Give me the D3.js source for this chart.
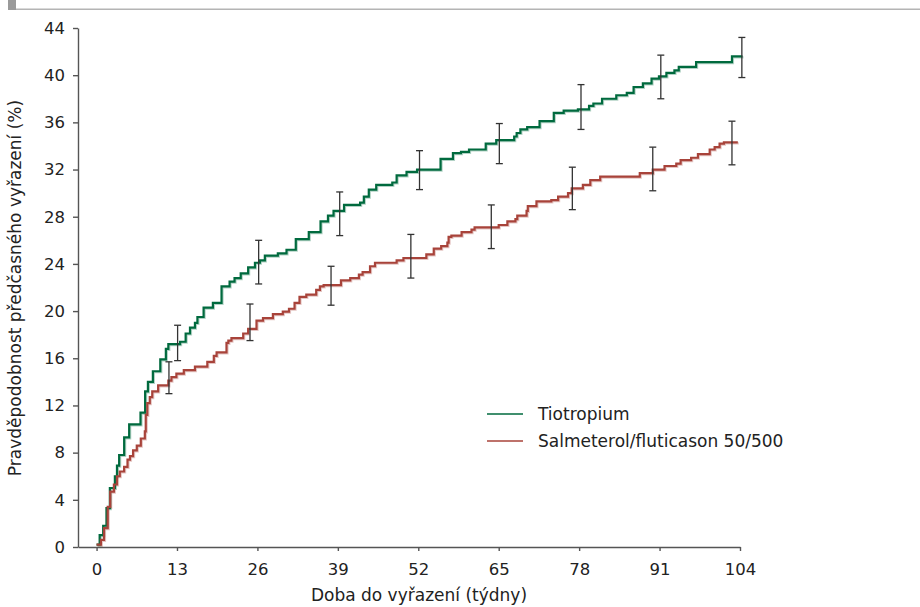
<!DOCTYPE html>
<html>
<head>
<meta charset="utf-8">
<script src="https://cdn.jsdelivr.net/npm/d3@7"></script>
<style>
  body { margin: 0; background: #fff; }
  #graf { width: 920px; height: 607px; }
  .axis text { font-family: "DejaVu Sans", sans-serif; font-size: 16.5px; fill: #222; }
  .axis path, .axis line { stroke: #555; stroke-width: 1.4; }
  .titulo { font-family: "DejaVu Sans", sans-serif; font-size: 17px; fill: #222; }
  .leyenda { font-family: "DejaVu Sans", sans-serif; font-size: 17px; fill: #222; }
</style>
</head>
<body>
<div id="graf"></div>
<script>
// Datos: [semana, valor %] (escalón posterior)
const tiotropium = [
  [0, 0.2], [0.5, 1.0], [1.07, 1.8], [1.6, 3.3], [2.15, 5.0], [2.96, 6.0], [3.3, 6.9], [3.65, 7.8],
  [4.46, 9.3], [5.27, 10.4], [7.1, 11.4], [7.85, 13.2], [8.3, 14.0], [9.1, 14.9], [10.3, 15.9],
  [11.2, 16.8], [11.6, 17.2], [13.5, 17.4], [14.4, 18.1], [15.1, 18.6], [15.9, 19.0], [16.3, 19.5],
  [17.3, 20.3], [18.8, 20.7], [20.2, 22.1], [21.5, 22.5], [22.3, 22.8], [23.3, 23.2], [24.5, 23.7],
  [25.6, 24.1], [26.4, 24.3], [27.2, 24.7], [29.3, 24.9], [30.7, 25.2], [32.2, 26.1], [34.3, 26.7],
  [36.2, 27.6], [37.4, 28.1], [38.3, 28.5], [40.0, 29.0], [42.6, 29.2], [43.2, 29.7], [44.0, 30.3],
  [45.2, 30.7], [47.8, 30.9], [48.5, 31.5], [50.1, 31.8], [51.8, 32.0], [55.6, 32.9], [57.6, 33.4],
  [58.9, 33.5], [60.2, 33.7], [62.9, 34.2], [64.6, 34.5], [67.5, 34.8], [67.9, 35.1], [68.5, 35.4],
  [69.6, 35.6], [71.6, 36.1], [73.9, 36.8], [75.5, 37.0], [77.8, 37.1], [79.6, 37.4], [80.3, 37.6],
  [81.7, 38.0], [84.0, 38.3], [85.7, 38.5], [86.8, 39.0], [88.3, 39.3], [89.7, 39.7], [90.9, 39.9],
  [92.1, 40.2], [93.4, 40.4], [94.1, 40.7], [96.9, 41.1], [102.7, 41.6], [104.4, 41.6]
]

const salmeterol = [
  [0, 0.2], [0.7, 0.6], [1.2, 1.6], [1.8, 3.4], [2.2, 4.7], [2.8, 5.3], [3.3, 6.0], [3.75, 6.4],
  [4.45, 6.8], [5.0, 7.4], [5.4, 7.7], [5.9, 8.2], [6.5, 8.6], [7.15, 9.2], [7.8, 9.8], [7.95, 11.2],
  [8.2, 12.2], [8.6, 12.7], [9.0, 13.2], [9.95, 13.7], [11.6, 14.1], [12.1, 14.4], [12.9, 14.7],
  [14.1, 15.0], [15.9, 15.3], [17.9, 15.7], [18.95, 16.2], [19.4, 16.5], [21.0, 17.3], [21.3, 17.5],
  [21.8, 17.7], [23.7, 18.1], [24.5, 18.5], [25.85, 19.2], [26.9, 19.4], [28.5, 19.75], [30.1, 19.95],
  [31.1, 20.2], [32.0, 20.7], [32.8, 21.2], [33.9, 21.4], [35.5, 21.8], [36.1, 22.1], [36.7, 22.2],
  [39.5, 22.6], [41.0, 22.8], [42.4, 23.1], [43.0, 23.3], [44.2, 23.8], [45.0, 24.1], [48.5, 24.3],
  [49.6, 24.5], [53.3, 24.8], [54.5, 25.3], [55.7, 25.5], [56.7, 25.8], [56.9, 26.3], [57.35, 26.4],
  [59.0, 26.7], [60.6, 26.9], [61.1, 27.1], [65.0, 27.3], [66.4, 27.6], [67.7, 27.8], [68.0, 28.1],
  [69.5, 28.5], [69.7, 28.9], [71.1, 29.3], [73.5, 29.4], [74.6, 29.7], [76.2, 30.0], [76.8, 30.4],
  [78.6, 30.7], [79.8, 31.1], [81.4, 31.4], [87.8, 31.7], [89.9, 32.0], [91.8, 32.3], [93.7, 32.5],
  [94.4, 32.8], [96.1, 33.0], [97.2, 33.3], [99.1, 33.7], [99.9, 33.9], [100.7, 34.2], [101.4, 34.3],
  [103.65, 34.3]
]

// Barras de error: [semana, bajo, alto]
const barrasTiotropium = [
  [13.1, 15.8, 18.8], [26.2, 22.3, 26.0], [39.3, 26.4, 30.1], [52.2, 30.3, 33.6],
  [65.1, 32.5, 35.9], [78.3, 35.4, 39.2], [91.2, 38.0, 41.7], [104.3, 39.8, 43.2]
]
const barrasSalmeterol = [
  [11.7, 13.0, 15.7], [24.8, 17.5, 20.6], [37.9, 20.5, 23.8], [50.8, 22.8, 26.5],
  [63.8, 25.3, 29.0], [76.9, 28.6, 32.2], [89.9, 30.2, 33.9], [102.7, 32.4, 36.1]
]

const ticksX = [0, 13, 26, 39, 52, 65, 78, 91, 104]
const ticksY = [0, 4, 8, 12, 16, 20, 24, 28, 32, 36, 40, 44]
const series = ["Tiotropium", "Salmeterol/fluticason 50/500"]

const draw = async (el = "#graf") => {
  const graf = d3.select(el)

  // Dimensiones
  const anchoTotal = 920
  const altoTotal = 607
  const margins = { top: 28, right: 180, bottom: 60, left: 78 }
  const ancho = anchoTotal - margins.left - margins.right
  const alto = altoTotal - margins.top - margins.bottom

  // Accessors
  const xAccessor = (d) => d[0]
  const yAccessor = (d) => d[1]

  // Colores
  const color = d3.scaleOrdinal().domain(series).range(["#006a3e", "#a8433a"])

  // Escaladores
  const x = d3.scaleLinear().domain([-3, 104]).range([0, ancho])
  const y = d3.scaleLinear().domain([0, 44]).range([alto, 0])

  const svg = graf
    .append("svg")
    .attr("width", anchoTotal)
    .attr("height", altoTotal)

  // Barra gris superior
  svg.append("rect")
    .attr("x", 8).attr("y", 8.5)
    .attr("width", anchoTotal - 8).attr("height", 1.5)
    .attr("fill", "#b4b4b4")
  svg.append("rect")
    .attr("x", 8).attr("y", 0)
    .attr("width", 8).attr("height", 10)
    .attr("fill", "#9a9a9a")

  const chart = svg
    .append("g")
    .attr("transform", `translate(${margins.left}, ${margins.top})`)

  // Ejes
  const xAxis = d3.axisBottom(x)
    .tickValues(ticksX)
    .tickSize(4)
    .tickSizeOuter(0)
    .tickPadding(12)

  const yAxis = d3.axisLeft(y)
    .tickValues(ticksY)
    .tickSize(5)
    .tickSizeOuter(0)
    .tickPadding(8)

  chart.append("g")
    .attr("transform", `translate(0, ${alto})`)
    .classed("axis", true)
    .call(xAxis)

  chart.append("g")
    .classed("axis", true)
    .call(yAxis)

  // Títulos de ejes
  svg.append("text")
    .classed("titulo", true)
    .attr("x", 419)
    .attr("y", 601)
    .attr("text-anchor", "middle")
    .text("Doba do vyřazení (týdny)")

  svg.append("text")
    .classed("titulo", true)
    .attr("transform", "rotate(-90)")
    .attr("x", -288)
    .attr("y", 21)
    .attr("text-anchor", "middle")
    .text("Pravděpodobnost předčasného vyřazení (%)")

  // Líneas escalonadas
  const linea = d3.line()
    .x((d) => x(xAccessor(d)))
    .y((d) => y(yAccessor(d)))
    .curve(d3.curveStepAfter)

  const datos = [
    { tipo: series[0], valores: tiotropium, barras: barrasTiotropium },
    { tipo: series[1], valores: salmeterol, barras: barrasSalmeterol }
  ]

  // sombra clara (como el original)
  chart.selectAll("path.sombra")
    .data(datos)
    .join("path")
    .classed("sombra", true)
    .attr("transform", "translate(1, 1)")
    .attr("fill", "none")
    .attr("stroke", (d) => color(d.tipo))
    .attr("stroke-opacity", 0.3)
    .attr("stroke-width", 2.2)
    .attr("d", (d) => linea(d.valores))

  chart.selectAll("path.linea")
    .data(datos)
    .join("path")
    .classed("linea", true)
    .attr("fill", "none")
    .attr("stroke", (d) => color(d.tipo))
    .attr("stroke-width", 2.2)
    .attr("d", (d) => linea(d.valores))

  // Barras de error
  const barras = datos.flatMap((d) => d.barras)
  const gBarras = chart.selectAll("g.barra")
    .data(barras)
    .join("g")
    .classed("barra", true)
    .attr("stroke", "#333")
    .attr("stroke-width", 1.3)

  gBarras.append("line")
    .attr("x1", (d) => x(d[0])).attr("x2", (d) => x(d[0]))
    .attr("y1", (d) => y(d[1])).attr("y2", (d) => y(d[2]))
  gBarras.append("line")
    .attr("x1", (d) => x(d[0]) - 3.5).attr("x2", (d) => x(d[0]) + 3.5)
    .attr("y1", (d) => y(d[1])).attr("y2", (d) => y(d[1]))
  gBarras.append("line")
    .attr("x1", (d) => x(d[0]) - 3.5).attr("x2", (d) => x(d[0]) + 3.5)
    .attr("y1", (d) => y(d[2])).attr("y2", (d) => y(d[2]))

  // Leyenda
  const leyenda = svg.append("g")
    .attr("transform", "translate(487, 414)")
    .selectAll("g")
    .data(series)
    .join("g")
    .attr("transform", (d, i) => `translate(0, ${i * 27})`)

  leyenda.append("line")
    .attr("x1", 0).attr("x2", 36)
    .attr("stroke", (d) => color(d))
    .attr("stroke-width", 1.6)

  leyenda.append("text")
    .classed("leyenda", true)
    .attr("x", 51)
    .attr("y", 6)
    .text((d) => d)
}

draw()
</script>
</body>
</html>
